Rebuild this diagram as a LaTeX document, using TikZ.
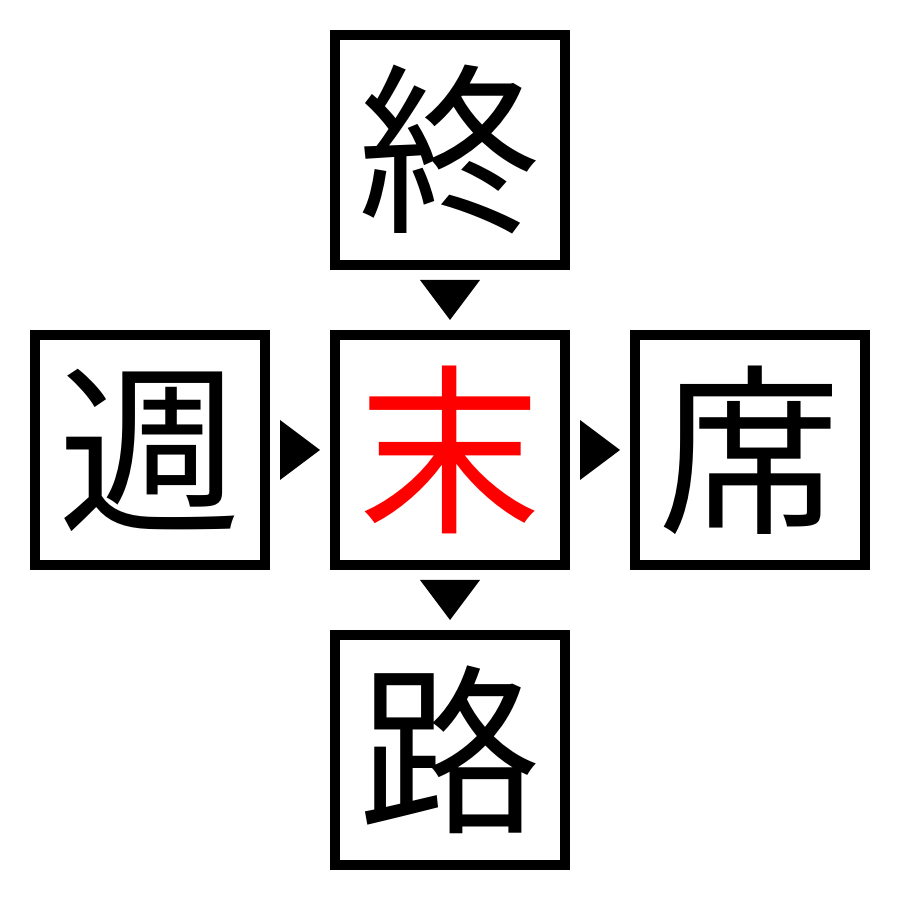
\documentclass[tikz,border=0pt]{standalone}
\usepackage{fontspec}
\newfontfamily\cjk{Noto Sans CJK JP}
\usetikzlibrary{calc}
\tikzset{
  kbox/.style={draw=black, line width=1mm, minimum width=2.3cm, minimum height=2.3cm, inner sep=0pt, font=\cjk\fontsize{52}{52}\selectfont},
  tri/.style={fill=black}
}
\begin{document}
\begin{tikzpicture}
\useasboundingbox (0,0) rectangle (9,9);
\node[kbox] (t) at (4.5,7.5) {終};
\node[kbox, text=red] (m) at (4.5,4.5) {末};
\node[kbox] (l) at (1.5,4.5) {週};
\node[kbox] (r) at (7.5,4.5) {席};
\node[kbox] (b) at (4.5,1.5) {路};
\coordinate (c1) at ($(t.south)!0.5!(m.north)$);
\coordinate (c2) at ($(m.south)!0.5!(b.north)$);
\coordinate (c3) at ($(l.east)!0.5!(m.west)$);
\coordinate (c4) at ($(m.east)!0.5!(r.west)$);
\fill[tri] ($(c1)+(-0.3,0.2)$) -- ($(c1)+(0.3,0.2)$) -- ($(c1)+(0,-0.2)$) -- cycle;
\fill[tri] ($(c2)+(-0.3,0.2)$) -- ($(c2)+(0.3,0.2)$) -- ($(c2)+(0,-0.2)$) -- cycle;
\fill[tri] ($(c3)+(-0.2,0.3)$) -- ($(c3)+(-0.2,-0.3)$) -- ($(c3)+(0.2,0)$) -- cycle;
\fill[tri] ($(c4)+(-0.2,0.3)$) -- ($(c4)+(-0.2,-0.3)$) -- ($(c4)+(0.2,0)$) -- cycle;
\end{tikzpicture}
\end{document}
